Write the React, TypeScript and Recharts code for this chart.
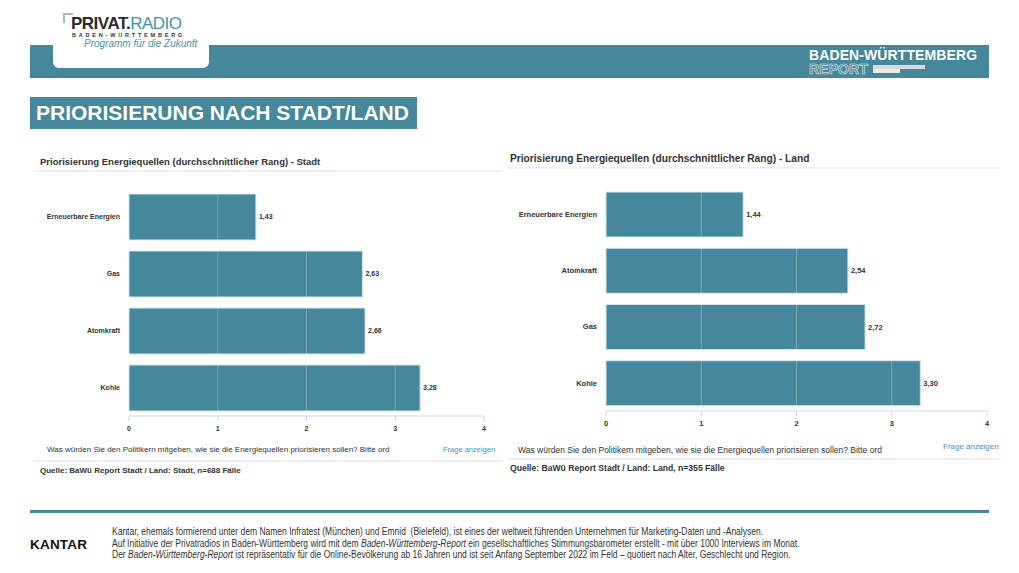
import React from "react";
import { BarChart, Bar, XAxis, YAxis, ReferenceLine, LabelList } from "recharts";

const stadtCategories = ["Erneuerbare Energien", "Gas", "Atomkraft", "Kohle"];
const stadtValues = [1.43, 2.63, 2.66, 3.28];
const landCategories = ["Erneuerbare Energien", "Atomkraft", "Gas", "Kohle"];
const landValues = [1.44, 2.54, 2.72, 3.3];
const axisTicks = [0, 1, 2, 3, 4];
const gridValues = [1, 2, 3];

const TEAL = "#45879b";
const FONT = "'Liberation Sans', Arial, sans-serif";
const TEXT = "#333333";

const fmt = (v: unknown) => (typeof v === "number" ? v.toFixed(2).replace(".", ",") : String(v));

interface PanelChartProps {
  categories: string[];
  values: number[];
  width: number;
  height: number;
  barSize: number;
  rightMargin: number;
  fontSize: number;
}

function PanelChart({ categories, values, width, height, barSize, rightMargin, fontSize }: PanelChartProps) {
  const data = categories.map((name, i) => ({ name, value: values[i] }));
  const CategoryTick = (props: any) => (
    <text
      x={props.x}
      y={props.y}
      dy="0.35em"
      textAnchor="end"
      fontSize={fontSize}
      fontFamily={FONT}
      fontWeight="bold"
      fill={TEXT}
    >
      {props.payload.value}
    </text>
  );
  return (
    <BarChart
      layout="vertical"
      width={width}
      height={height}
      data={data}
      margin={{ top: 8, right: rightMargin, left: 0, bottom: 0 }}
    >
      <XAxis
        type="number"
        domain={[0, 4]}
        ticks={axisTicks}
        height={24}
        tick={{ fontSize, fontWeight: "bold", fill: TEXT, fontFamily: FONT }}
        axisLine={{ stroke: "#ccd6eb" }}
        tickLine={{ stroke: "#ccd6eb" }}
        tickSize={5}
        tickMargin={5}
      />
      <YAxis
        type="category"
        dataKey="name"
        width={99}
        tick={CategoryTick}
        axisLine={false}
        tickLine={false}
        tickSize={0}
        tickMargin={9}
      />
      <Bar dataKey="value" fill={TEAL} stroke="#d3e5eb" strokeWidth={1} barSize={barSize} isAnimationActive={false}>
        <LabelList
          dataKey="value"
          position="right"
          offset={3}
          formatter={fmt}
          style={{ fontSize, fontWeight: "bold", fill: TEXT, fontFamily: FONT }}
        />
      </Bar>
      {gridValues.map((g) => (
        <ReferenceLine key={g} x={g} stroke="rgba(255,255,255,0.28)" strokeWidth={1} />
      ))}
    </BarChart>
  );
}

const abs = (left: number, top: number, extra: React.CSSProperties = {}): React.CSSProperties => ({
  position: "absolute",
  left,
  top,
  whiteSpace: "nowrap",
  ...extra,
});

export default function App() {
  return (
    <div
      style={{
        position: "absolute",
        left: 0,
        top: 0,
        width: 1019,
        height: 573,
        background: "#ffffff",
        fontFamily: FONT,
        color: TEXT,
        overflow: "hidden",
      }}
    >
      {/* header bar */}
      <div style={abs(30, 45, { width: 959, height: 33, background: TEAL })} />
      <div
        style={abs(53, 0, {
          width: 156,
          height: 68,
          background: "#fff",
          borderRadius: "0 0 6px 6px",
        })}
      />
      <div style={abs(63, 13, { width: 8, height: 8, borderTop: "2px solid #9fb8c2", borderLeft: "2px solid #9fb8c2" })} />
      <div style={abs(71, 15, { fontSize: 17, lineHeight: "18px", letterSpacing: -0.5 })}>
        <span style={{ fontWeight: "bold", color: "#2b2b2b" }}>PRIVAT.</span>
        <span style={{ color: "#3f93ad" }}>RADIO</span>
      </div>
      <div style={abs(72, 32, { fontSize: 5.5, fontWeight: "bold", letterSpacing: 2.8, color: "#333" })}>
        BADEN-WÜRTTEMBERG
      </div>
      <div style={abs(84, 38, { fontSize: 10, fontStyle: "italic", color: "#3f93ad" })}>Programm für die Zukunft</div>

      <div style={abs(809, 47, { fontSize: 14, fontWeight: "bold", color: "#ffffff", letterSpacing: 0.1 })}>
        BADEN-WÜRTTEMBERG
      </div>
      <div
        style={abs(809, 61, {
          fontSize: 14,
          fontWeight: "bold",
          color: "transparent",
          WebkitTextStroke: "0.7px #cfe0e6",
          letterSpacing: 0.1,
        })}
      >
        REPORT
      </div>
      <div style={abs(873, 65, { width: 52, height: 4, background: "#d9d9d9" })} />
      <div style={abs(873, 69, { width: 27, height: 4, background: "#ececec" })} />

      {/* page title */}
      <div style={abs(30, 97, { width: 387, height: 32, background: TEAL })} />
      <div
        style={abs(36, 101, {
          fontSize: 21,
          lineHeight: "24px",
          fontWeight: "bold",
          color: "#ffffff",
          letterSpacing: 0,
        })}
      >
        PRIORISIERUNG NACH STADT/LAND
      </div>

      {/* left panel */}
      <div style={abs(40, 156, { fontSize: 9.5, fontWeight: "bold" })}>
        Priorisierung Energiequellen (durchschnittlicher Rang) - Stadt
      </div>
      <div style={abs(33, 170, { width: 470, height: 2, background: "#f0f0f0" })} />
      <div style={abs(30, 180)}>
        <PanelChart
          categories={stadtCategories}
          values={stadtValues}
          width={470}
          height={260}
          barSize={46}
          rightMargin={16}
          fontSize={7}
        />
      </div>
      <div style={abs(47, 445, { fontSize: 8 })}>
        Was würden Sie den Politikern mitgeben, wie sie die Energiequellen priorisieren sollen? Bitte ord
      </div>
      <div style={abs(443, 445, { fontSize: 7.5, color: "#4a8fd0" })}>Frage anzeigen</div>
      <div style={abs(33, 460, { width: 470, height: 2, background: "#f0f0f0" })} />
      <div style={abs(40, 466, { fontSize: 8, fontWeight: "bold" })}>
        Quelle: BaWü Report Stadt / Land: Stadt, n=688 Fälle
      </div>

      {/* right panel */}
      <div style={abs(510, 153, { fontSize: 10.2, fontWeight: "bold" })}>
        Priorisierung Energiequellen (durchschnittlicher Rang) - Land
      </div>
      <div style={abs(507, 167, { width: 493, height: 2, background: "#f0f0f0" })} />
      <div style={abs(507, 178)}>
        <PanelChart
          categories={landCategories}
          values={landValues}
          width={493}
          height={257}
          barSize={45}
          rightMargin={13}
          fontSize={7.5}
        />
      </div>
      <div style={abs(518, 445, { fontSize: 8.5 })}>
        Was würden Sie den Politikern mitgeben, wie sie die Energiequellen priorisieren sollen? Bitte ord
      </div>
      <div style={abs(943, 442, { fontSize: 8, color: "#4a8fd0" })}>Frage anzeigen</div>
      <div style={abs(507, 458, { width: 493, height: 2, background: "#f0f0f0" })} />
      <div style={abs(510, 463, { fontSize: 8.6, fontWeight: "bold" })}>
        Quelle: BaWü Report Stadt / Land: Land, n=355 Fälle
      </div>

      {/* footer */}
      <div style={abs(30, 510, { width: 959, height: 3, background: TEAL })} />
      <div style={abs(30, 537, { fontSize: 13.5, fontWeight: "bold", color: "#111", letterSpacing: 0.2 })}>KANTAR</div>
      <div
        style={abs(112, 526, {
          fontSize: 10,
          lineHeight: "11.5px",
          color: "#333",
          transform: "scaleX(0.85)",
          transformOrigin: "left top",
        })}
      >
        <div>
          Kantar, ehemals formierend unter dem Namen Infratest (München) und Emnid&nbsp; (Bielefeld), ist eines der
          weltweit führenden Unternehmen für Marketing-Daten und -Analysen.
        </div>
        <div>
          Auf Initiative der Privatradios in Baden-Württemberg wird mit dem <i>Baden-Württemberg-Report</i> ein
          gesellschaftliches Stimmungsbarometer erstellt - mit über 1000 Interviews im Monat.
        </div>
        <div>
          Der <i>Baden-Württemberg-Report</i> ist repräsentativ für die Online-Bevölkerung ab 16 Jahren und ist seit
          Anfang September 2022 im Feld – quotiert nach Alter, Geschlecht und Region.
        </div>
      </div>
    </div>
  );
}
